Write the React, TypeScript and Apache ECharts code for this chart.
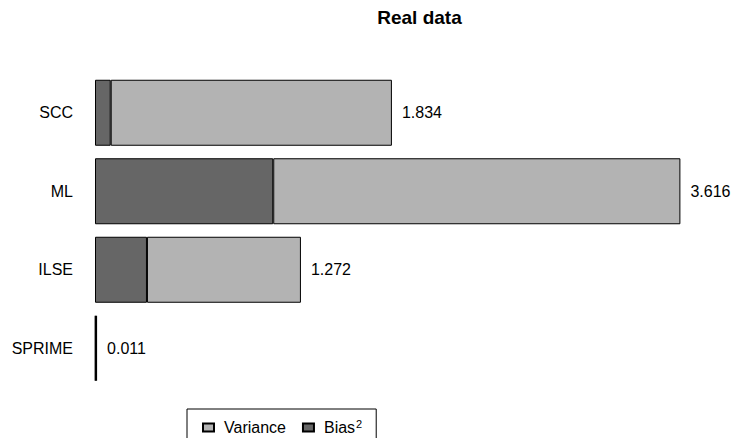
import React, { useEffect, useRef } from "react";
import * as echarts from "echarts";

const categories = ["SCC", "ML", "ILSE", "SPRIME"];
const totals = [1.834, 3.616, 1.272, 0.011];
const bias = [0.097, 1.101, 0.321, 0.005];
const variance = [1.737, 2.515, 0.951, 0.006];
const titleText = "Real data";

const FONT = "'Liberation Sans', Arial, Helvetica, sans-serif";

export default function App() {
  const ref = useRef<HTMLDivElement>(null);
  useEffect(() => {
    document.body.style.margin = "0";
    if (!ref.current) return;
    const chart = echarts.init(ref.current, undefined, { renderer: "svg" });
    const thin = (v: number, i: number) =>
      totals[i] < 0.05 ? { value: v, itemStyle: { borderWidth: 1.6 } } : v;
    chart.setOption({
      animation: false,
      backgroundColor: "#ffffff",
      title: {
        text: titleText,
        left: 419.5,
        top: 8,
        textAlign: "center",
        padding: 0,
        textStyle: { fontFamily: FONT, fontSize: 19, fontWeight: "bold", color: "#000" },
      },
      legend: {
        left: 187,
        top: 409,
        orient: "horizontal",
        data: ["Variance", "Bias²"],
        itemWidth: 11,
        itemHeight: 8,
        itemGap: 16,
        padding: [9, 14, 9, 15],
        borderColor: "#000",
        borderWidth: 1,
        borderRadius: 0,
        icon: "rect",
        formatter: (name: string) => (name === "Bias²" ? "Bias{sup|2}" : name),
        textStyle: {
          fontFamily: FONT,
          fontSize: 16,
          color: "#000",
          padding: [0, 0, 0, 5],
          rich: {
            sup: { fontFamily: FONT, fontSize: 11, verticalAlign: "top", padding: [0, 0, 8, 1] },
          },
        },
      },
      grid: { left: 95, top: 73.5, width: 599, height: 314, containLabel: false },
      xAxis: {
        type: "value",
        min: 0,
        max: 3.7,
        show: false,
      },
      yAxis: {
        type: "category",
        data: categories,
        inverse: true,
        axisLine: { show: false },
        axisTick: { show: false },
        splitLine: { show: false },
        axisLabel: { fontFamily: FONT, fontSize: 16, color: "#000", margin: 22 },
      },
      series: [
        {
          name: "Bias²",
          type: "bar",
          stack: "mse",
          data: bias.map(thin),
          barWidth: 66,
          itemStyle: { color: "#666666", borderColor: "#000", borderWidth: 1 },
        },
        {
          name: "Variance",
          type: "bar",
          stack: "mse",
          data: variance.map(thin),
          barWidth: 66,
          itemStyle: { color: "#b3b3b3", borderColor: "#000", borderWidth: 1 },
          label: {
            show: true,
            position: "right",
            distance: 10,
            fontFamily: FONT,
            fontSize: 16,
            color: "#000",
            formatter: (p: any) => totals[p.dataIndex].toFixed(3),
          },
        },
      ],
    });
    return () => chart.dispose();
  }, []);
  return <div ref={ref} style={{ width: 735, height: 438 }} />;
}
